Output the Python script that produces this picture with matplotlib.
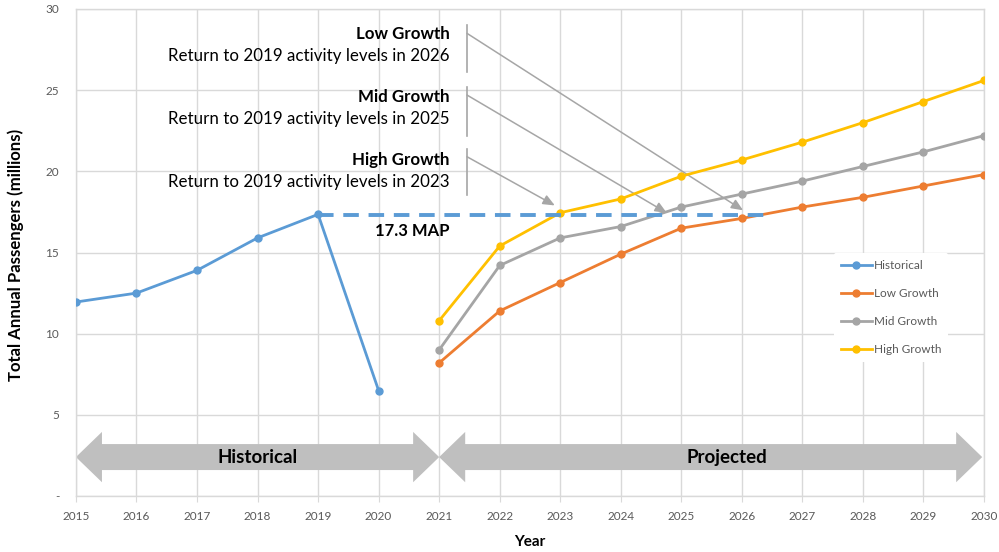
import matplotlib
matplotlib.use("Agg")
import matplotlib.pyplot as plt
from matplotlib.patches import Polygon

plt.rcParams['font.family'] = ['Lato', 'DejaVu Sans']

# data
years_hist = [2015, 2016, 2017, 2018, 2019, 2020]
historical = [11.95, 12.5, 13.9, 15.9, 17.35, 6.5]

years_proj = [2021, 2022, 2023, 2024, 2025, 2026, 2027, 2028, 2029, 2030]
low_growth = [8.2, 11.4, 13.15, 14.9, 16.5, 17.1, 17.8, 18.4, 19.1, 19.8]
mid_growth = [9.0, 14.2, 15.9, 16.6, 17.8, 18.6, 19.4, 20.3, 21.2, 22.2]
high_growth = [10.8, 15.4, 17.45, 18.3, 19.7, 20.7, 21.8, 23.0, 24.3, 25.6]

baseline = 17.3
x_ticks = list(range(2015, 2031))
y_ticks = [0, 5, 10, 15, 20, 25, 30]
y_labels = ['-', '5', '10', '15', '20', '25', '30']

scenarios = ['Low Growth', 'Mid Growth', 'High Growth']
return_years = [2026, 2025, 2023]

c_hist = '#5B9BD5'
c_low = '#ED7D31'
c_mid = '#A5A5A5'
c_high = '#FFC000'
grid_c = '#D9D9D9'
tick_c = '#595959'

fig = plt.figure(figsize=(9.99, 5.52), dpi=100)
ax = fig.add_axes([0.076, 0.1014, 0.909, 0.8823])

ax.set_xlim(2015, 2030)
ax.set_ylim(0, 30)
ax.set_xticks(x_ticks)
ax.set_yticks(y_ticks)
ax.set_yticklabels(y_labels)
ax.grid(True, color=grid_c, lw=1)
ax.set_axisbelow(True)
for s in ax.spines.values():
    s.set_color(grid_c)
    s.set_linewidth(1)
ax.tick_params(axis='x', colors=tick_c, labelsize=8.5, length=4, color=grid_c, pad=7)
ax.tick_params(axis='y', colors=tick_c, labelsize=8.5, length=0, pad=12)

# big grey arrows
def double_arrow(x0, x1, yc=2.4, body=0.8, head=1.55, hl=0.43):
    pts = [(x0, yc), (x0 + hl, yc + head), (x0 + hl, yc + body),
           (x1 - hl, yc + body), (x1 - hl, yc + head), (x1, yc),
           (x1 - hl, yc - head), (x1 - hl, yc - body), (x0 + hl, yc - body),
           (x0 + hl, yc - head)]
    ax.add_patch(Polygon(pts, closed=True, color='#BFBFBF', lw=0, zorder=1.5))

double_arrow(2015, 2021)
ax.text(2018, 2.4, 'Historical', ha='center', va='center', fontsize=13.5,
        fontweight='bold', color='black', zorder=2)
double_arrow(2021, 2029.97)
ax.text(2025.75, 2.4, 'Projected', ha='center', va='center', fontsize=13.5,
        fontweight='bold', color='black', zorder=2)

# series
ms = 5
ax.plot(years_hist, historical, color=c_hist, lw=2, marker='o', ms=ms, label='Historical', zorder=3)
ax.plot(years_proj, low_growth, color=c_low, lw=2, marker='o', ms=ms, label='Low Growth', zorder=3)
ax.plot(years_proj, mid_growth, color=c_mid, lw=2, marker='o', ms=ms, label='Mid Growth', zorder=3)
ax.plot(years_proj, high_growth, color=c_high, lw=2, marker='o', ms=ms, label='High Growth', zorder=3)

# 17.3 MAP dashed line
ax.plot([2019, 2026.4], [baseline, baseline], color=c_hist, lw=2.8, ls=(0, (4, 2.5)), zorder=4)
ax.text(2021.17, 16.3, '17.3 MAP', ha='right', va='center', fontsize=12, fontweight='bold')

# callouts
label_y = [(28.45, 27.1), (24.6, 23.2), (20.7, 19.35)]
bars = [(29.0, 26.1), (25.2, 22.2), (21.4, 18.55)]
starts = [28.5, 24.7, 20.9]
tips = [(2026.02, 17.6), (2024.76, 17.44), (2022.91, 17.9)]
for name, yr, (ty1, ty2), (b0, b1), sy, tip in zip(scenarios, return_years, label_y, bars, starts, tips):
    ax.text(2021.17, ty1, name, ha='right', va='center', fontsize=12.2, fontweight='bold')
    ax.text(2021.17, ty2, f'Return to 2019 activity levels in {yr}', ha='right', va='center', fontsize=12.2)
    ax.plot([2021.46, 2021.46], [b0, b1], color='#A6A6A6', lw=1.2, zorder=2)
    ax.annotate('', xy=tip, xytext=(2021.46, sy),
                arrowprops=dict(arrowstyle='-|>,head_length=0.7,head_width=0.3',
                                color='#A6A6A6', lw=1.1, shrinkA=0, shrinkB=0), zorder=2)

ax.set_xlabel('Year', fontsize=11, fontweight='bold')
ax.xaxis.set_label_coords(0.5, -0.08)
ylab = ax.set_ylabel('Total Annual Passengers (millions)', fontsize=11, fontweight='bold')
ax.yaxis.set_label_coords(-0.057, 0.495)

# shrink the y label so it is as long as in the original (about 254 px)
r = fig.canvas.get_renderer()
h = ylab.get_window_extent(r).height
ylab.set_fontsize(11 * 254 / h)

leg = ax.legend(loc='upper left', bbox_to_anchor=(0.828, 0.512), frameon=True, fontsize=8.5,
                handlelength=2.6, labelspacing=1.45, handletextpad=0.2, borderpad=0.6)
leg.get_frame().set_edgecolor('none')
leg.get_frame().set_facecolor('white')
leg.get_frame().set_alpha(1)
for t in leg.get_texts():
    t.set_color(tick_c)

fig.savefig('out.png', dpi=100)
